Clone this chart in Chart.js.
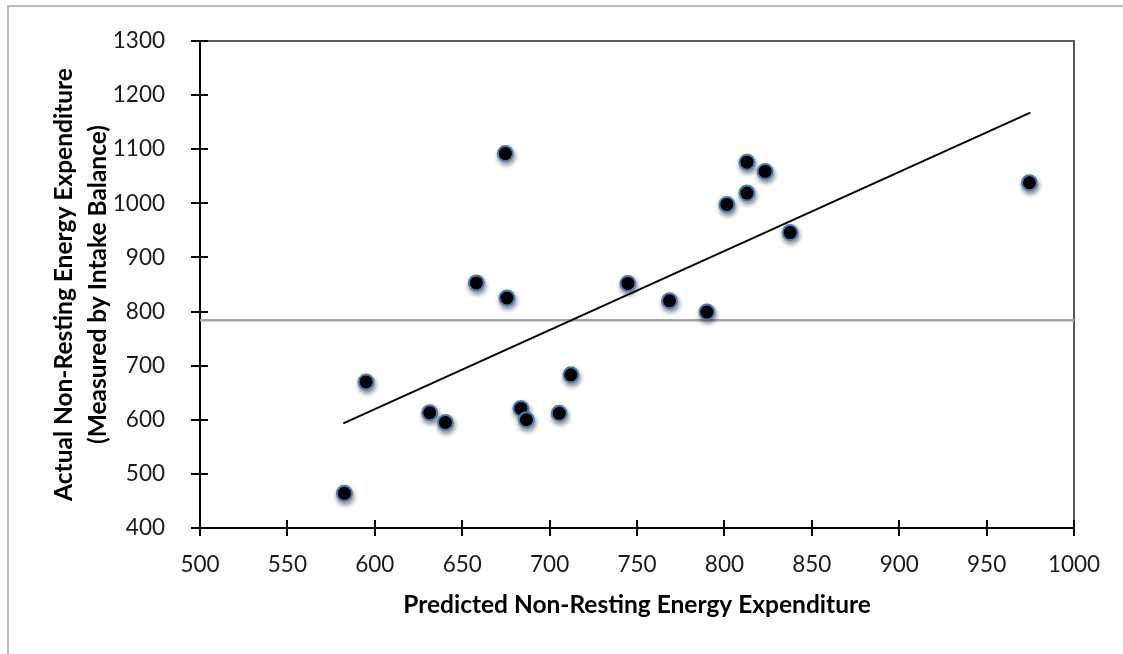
<!DOCTYPE html>
<html>
<head>
<meta charset="utf-8">
<script src="https://cdn.jsdelivr.net/npm/chart.js@4/dist/chart.umd.min.js"></script>
<style>
  html, body { margin: 0; padding: 0; background: #fff; overflow: hidden; }
  #wrap { position: relative; width: 1123px; height: 654px; }
  #frame { position: absolute; left: 7px; top: 5px; width: 1200px; height: 700px;
           border-top: 2px solid #bcbcbc; border-left: 2px solid #bcbcbc; }
  canvas { position: absolute; left: 0; top: 0; }
</style>
</head>
<body>
<div id="wrap">
  <div id="frame"></div>
  <canvas id="c" width="1123" height="654"></canvas>
</div>
<script>
// ---- data ----
const predicted = [582.6, 595, 631.4, 640.4, 658.1, 674.7, 675.6, 683.6, 686.7, 705.5,
                   712.2, 744.8, 768.6, 790, 801.4, 812.9, 812.9, 823.3, 837.6, 974.5];
const actual    = [464, 670, 613, 595, 853, 1092, 825, 621, 600, 612,
                   683, 852, 820, 799, 998, 1076, 1019, 1059, 946, 1038];
const trendX = [582, 975];
const trendY = [593.5, 1167.5];
const refX = [500, 1000];
const refY = [784, 784];
const xTitle = 'Predicted Non-Resting Energy Expenditure';
const yTitle = ['Actual Non-Resting Energy Expenditure', '(Measured by Intake Balance)'];

const toPts = (xs, ys) => xs.map((v, i) => ({ x: v, y: ys[i] }));

const axisDecor = {
  id: 'axisDecor',
  beforeDatasetsDraw(chart) {
    const { ctx, chartArea: a, scales: { x, y } } = chart;
    ctx.save();
    ctx.lineWidth = 2;
    ctx.strokeStyle = '#5a5a5a';
    ctx.beginPath();
    ctx.moveTo(a.left, a.top);
    ctx.lineTo(a.right, a.top);
    ctx.lineTo(a.right, a.bottom);
    ctx.stroke();
    ctx.strokeStyle = '#000';
    ctx.beginPath();
    x.ticks.forEach((t, i) => {
      const px = Math.round(x.getPixelForTick(i));
      ctx.moveTo(px, a.bottom - 8);
      ctx.lineTo(px, a.bottom + 8);
    });
    y.ticks.forEach((t, i) => {
      const py = Math.round(y.getPixelForTick(i));
      ctx.moveTo(a.left - 9, py);
      ctx.lineTo(a.left + 8, py);
    });
    ctx.stroke();
    ctx.restore();
  },
  beforeDatasetDraw(chart, args) {
    if (args.index === 0) {
      const ctx = chart.ctx;
      ctx.save();
      ctx.shadowColor = 'rgba(0,0,0,0.45)';
      ctx.shadowBlur = 5;
      ctx.shadowOffsetX = 1;
      ctx.shadowOffsetY = 3;
    }
  },
  afterDatasetDraw(chart, args) {
    if (args.index === 0) chart.ctx.restore();
  }
};

function build() {
  new Chart(document.getElementById('c'), {
    type: 'scatter',
    data: {
      datasets: [
        {
          label: 'Measured',
          data: toPts(predicted, actual),
          backgroundColor: '#000',
          borderColor: '#4a7ebb',
          borderWidth: 2,
          pointRadius: 7.5,
          pointHoverRadius: 7.5,
          order: 0
        },
        {
          type: 'line',
          label: 'Trend',
          data: toPts(trendX, trendY),
          borderColor: '#000',
          borderWidth: 2,
          pointRadius: 0,
          fill: false,
          order: 1
        },
        {
          type: 'line',
          label: 'Reference',
          data: toPts(refX, refY),
          borderColor: '#a6a6a6',
          borderWidth: 2.5,
          pointRadius: 0,
          fill: false,
          order: 2
        }
      ]
    },
    options: {
      responsive: false,
      animation: false,
      layout: { padding: { top: 41, right: 49, left: 0, bottom: 0 } },
      plugins: { legend: { display: false }, tooltip: { enabled: false } },
      scales: {
        x: {
          type: 'linear',
          min: 500, max: 1000,
          ticks: { stepSize: 50, padding: 15, color: '#1a1a1a',
                   callback: v => String(v),
                   font: { family: 'Lato', size: 22.5, lineHeight: 1.2 } },
          grid: { display: false },
          border: { display: true, color: '#000', width: 2 },
          title: { display: true, text: xTitle, color: '#000',
                   font: { family: 'Lato', size: 24.5, weight: 'bold', lineHeight: 1.2 },
                   padding: { top: 0, bottom: 34 } },
          afterFit(s) { s.height = 126; }
        },
        y: {
          type: 'linear',
          min: 400, max: 1300,
          ticks: { stepSize: 100, padding: 27, color: '#1a1a1a',
                   callback: v => String(v),
                   font: { family: 'Lato', size: 22.5, lineHeight: 1.2 } },
          grid: { display: false },
          border: { display: true, color: '#000', width: 2 },
          title: { display: true, text: yTitle, color: '#000',
                   font: { family: 'Lato', size: 24.5, weight: 'bold', lineHeight: 1.35 },
                   padding: { top: 48, bottom: 0 } },
          afterFit(s) { s.width = 200; }
        }
      }
    },
    plugins: [axisDecor]
  });
}

Promise.all([
  document.fonts.load('22px Lato'),
  document.fonts.load('bold 24px Lato')
]).then(build, build);
</script>
</body>
</html>
